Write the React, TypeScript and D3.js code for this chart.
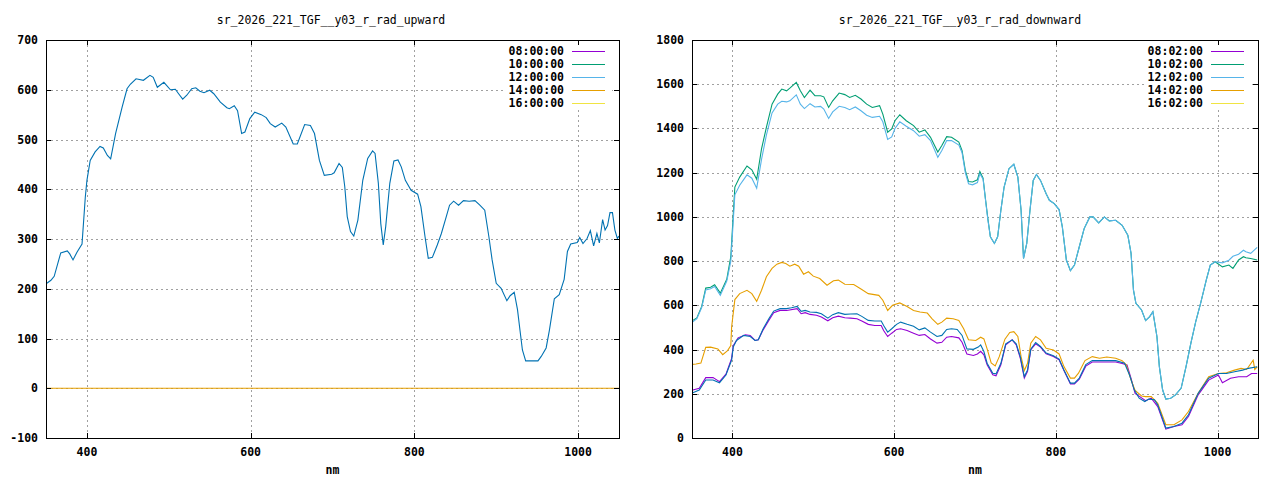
import * as d3 from "d3";
import { useEffect, useRef } from "react";

// wavelength (nm), value pairs
const upward: [number, number][] = [
  [351, 211], [356, 217], [360, 225], [368, 272], [376, 276], [379, 270], [383, 258], [388, 274], [394, 290], [398, 384],
  [400, 418], [404, 458], [410, 475], [416, 486], [420, 483], [425, 468], [429, 461], [435, 512], [443, 565], [449, 602],
  [453, 611], [460, 622], [469, 619], [477, 629], [481, 625], [486, 605], [494, 615], [502, 600], [508, 601], [512, 592],
  [517, 581], [522, 589], [528, 602], [533, 604], [538, 597], [543, 594], [550, 599], [555, 592], [563, 575], [571, 564],
  [574, 562], [580, 568], [584, 558], [589, 512], [593, 515], [599, 542], [605, 555], [613, 550], [619, 544], [624, 532],
  [630, 525], [638, 533], [643, 525], [652, 491], [657, 491], [666, 530], [673, 528], [678, 512], [684, 458], [690, 428],
  [699, 430], [702, 433], [708, 452], [712, 444], [715, 405], [718, 345], [722, 315], [726, 306], [731, 338], [737, 418],
  [743, 462], [749, 477], [752, 472], [756, 412], [759, 331], [762, 288], [765, 325], [770, 412], [775, 457], [780, 459],
  [784, 445], [789, 418], [796, 398], [804, 390], [808, 365], [813, 305], [817, 261], [822, 263], [828, 288], [833, 311],
  [839, 345], [843, 368], [848, 376], [854, 368], [860, 377], [867, 376], [874, 377], [880, 368], [886, 358], [891, 305],
  [895, 258], [900, 211], [906, 201], [913, 176], [917, 186], [922, 193], [926, 158], [929, 117], [932, 77], [936, 55],
  [942, 55], [951, 55], [955, 64], [961, 81], [965, 117], [971, 180], [977, 188], [983, 219], [987, 275], [991, 290],
  [999, 293], [1002, 303], [1006, 291], [1011, 301], [1015, 317], [1019, 286], [1023, 311], [1026, 292], [1030, 339],
  [1033, 318], [1036, 327], [1039, 353], [1042, 353], [1045, 318], [1048, 301], [1050, 306],
];
const upward14: [number, number][] = [[350, 0], [600, 0], [800, 0], [1050, 0]];

const green10Head: [number, number][] = [
  [351, 532], [356, 543], [362, 595], [367, 678], [373, 682], [378, 693], [385, 655], [393, 718], [398, 820], [403, 1135],
  [409, 1180], [418, 1230], [424, 1213], [430, 1170], [436, 1308], [442, 1405], [449, 1510], [456, 1555], [461, 1578],
  [467, 1570], [471, 1582], [479, 1608], [484, 1570], [489, 1540], [496, 1573], [502, 1548], [509, 1548], [513, 1543],
  [519, 1495], [524, 1525], [532, 1560], [539, 1553], [545, 1540], [552, 1550], [559, 1533], [566, 1510], [573, 1495],
  [582, 1503], [586, 1465], [592, 1383], [597, 1398], [601, 1435], [607, 1462], [615, 1435], [624, 1413], [631, 1383],
  [638, 1393], [645, 1360], [654, 1293], [659, 1323], [665, 1363], [671, 1360], [680, 1338], [684, 1300], [688, 1210],
  [692, 1160], [697, 1158], [703, 1168], [706, 1205], [710, 1175], [713, 1080], [716, 990], [719, 910],
];
const blue12Head: [number, number][] = [
  [351, 525], [356, 540], [362, 590], [367, 670], [373, 675], [378, 685], [385, 645], [393, 710], [398, 800], [403, 1100],
  [409, 1143], [418, 1190], [424, 1175], [430, 1130], [436, 1260], [442, 1370], [449, 1470], [456, 1510], [461, 1523],
  [467, 1520], [471, 1525], [479, 1552], [484, 1510], [489, 1490], [496, 1512], [502, 1497], [509, 1500], [513, 1488],
  [519, 1445], [524, 1475], [532, 1500], [539, 1495], [545, 1485], [552, 1497], [559, 1480], [566, 1460], [573, 1450],
  [582, 1455], [586, 1430], [592, 1350], [597, 1362], [601, 1400], [607, 1430], [615, 1410], [624, 1390], [631, 1365],
  [638, 1372], [645, 1345], [654, 1270], [659, 1300], [665, 1345], [671, 1345], [680, 1325], [684, 1290], [688, 1200],
  [692, 1150], [697, 1145], [703, 1155], [706, 1195], [710, 1170], [713, 1075], [716, 985], [719, 910],
];
// 10:02 and 12:02 lie on top of each other between 720 and 1000 nm
const upperMid: [number, number][] = [
  [724, 880], [728, 910], [732, 1030], [736, 1135], [742, 1218], [748, 1238], [753, 1180], [757, 1030], [760, 812],
  [764, 880], [768, 1030], [772, 1165], [776, 1192], [781, 1165], [788, 1105], [792, 1075], [798, 1060], [804, 1033],
  [808, 955], [813, 805], [818, 757], [823, 782], [829, 865], [835, 947], [842, 1000], [846, 1000], [853, 973],
  [860, 1000], [866, 982], [874, 985], [882, 962], [889, 917], [893, 835], [896, 669], [899, 609], [906, 579], [911, 531],
  [916, 549], [920, 571], [925, 459], [928, 323], [932, 218], [936, 176], [942, 180], [948, 195], [955, 226], [961, 323],
  [967, 429], [973, 526], [979, 609], [986, 714], [991, 782], [997, 797],
];
const green10Tail: [number, number][] = [
  [1006, 774], [1014, 782], [1019, 767], [1026, 805], [1032, 820], [1035, 815], [1041, 812], [1049, 805],
];
const blue12Tail: [number, number][] = [
  [1006, 792], [1014, 804], [1019, 822], [1026, 831], [1032, 849], [1035, 842], [1041, 835], [1049, 862],
];

const purple08: [number, number][] = [
  [351, 217], [359, 225], [367, 273], [376, 273], [384, 255], [392, 289], [399, 360], [401, 418], [407, 453], [416, 467],
  [422, 464], [428, 441], [432, 444], [438, 489], [445, 532], [451, 567], [459, 577], [467, 577], [480, 585], [485, 562],
  [490, 567], [496, 559], [504, 555], [510, 547], [518, 530], [524, 544], [531, 551], [539, 544], [546, 542], [554, 539],
  [560, 529], [568, 514], [576, 509], [584, 509], [587, 486], [592, 459], [597, 474], [603, 491], [608, 494], [616, 486],
  [624, 474], [631, 464], [638, 468], [645, 448], [653, 429], [659, 433], [665, 456], [671, 459], [680, 453], [684, 433],
  [690, 380], [698, 373], [703, 380], [707, 392], [711, 376], [715, 331], [722, 286], [726, 281], [732, 331], [738, 421],
  [746, 444], [751, 421], [756, 361], [761, 271], [765, 301], [769, 399], [775, 426], [781, 411], [788, 381], [797, 369],
  [804, 354], [810, 305], [818, 245], [823, 245], [829, 266], [837, 325], [845, 344], [858, 344], [874, 344], [882, 337],
  [888, 330], [893, 270], [898, 202], [911, 169], [918, 180], [926, 142], [936, 40], [946, 52], [956, 60], [964, 97],
  [976, 195], [989, 262], [1001, 285], [1006, 250], [1016, 270], [1026, 277], [1036, 277], [1042, 292], [1049, 292],
];
const orange14: [number, number][] = [
  [350, 333], [355, 335], [361, 339], [367, 410], [373, 411], [382, 403], [388, 377], [394, 395], [398, 418], [399, 502],
  [403, 626], [409, 653], [418, 668], [424, 653], [430, 618], [436, 668], [442, 729], [449, 767], [455, 786], [461, 794],
  [466, 789], [471, 777], [477, 786], [482, 777], [488, 741], [494, 752], [500, 732], [508, 721], [517, 691], [525, 711],
  [531, 714], [539, 695], [550, 694], [558, 676], [568, 653], [581, 645], [586, 623], [592, 577], [598, 600], [607, 611],
  [616, 595], [624, 577], [632, 570], [641, 565], [647, 539], [654, 514], [659, 524], [665, 542], [673, 539], [680, 532],
  [686, 494], [692, 444], [701, 441], [707, 456], [711, 448], [715, 403], [720, 340], [725, 326], [730, 368], [737, 447],
  [743, 477], [748, 481], [753, 459], [757, 368], [761, 305], [765, 338], [769, 429], [775, 459], [781, 444], [788, 406],
  [797, 398], [804, 380], [810, 323], [818, 271], [823, 271], [828, 293], [836, 350], [845, 368], [854, 361], [863, 366],
  [874, 361], [882, 350], [887, 331], [893, 263], [898, 215], [906, 190], [911, 187], [918, 187], [926, 157], [936, 60],
  [946, 60], [956, 82], [964, 120], [976, 202], [989, 277], [1001, 292], [1011, 295], [1021, 307], [1029, 315],
  [1036, 310], [1044, 352], [1046, 310], [1049, 322],
];
const extraDown: [number, number][] = [
  [351, 205], [359, 217], [367, 262], [376, 262], [384, 250], [392, 285], [399, 352], [401, 411], [405, 441], [414, 464],
  [422, 459], [428, 441], [432, 444], [438, 494], [445, 539], [451, 574], [459, 585], [467, 585], [473, 589], [480, 595],
  [485, 573], [490, 577], [496, 570], [504, 568], [510, 562], [518, 542], [524, 558], [531, 567], [539, 559], [546, 561],
  [554, 562], [560, 550], [568, 532], [576, 529], [584, 529], [587, 509], [592, 479], [597, 494], [603, 514], [608, 524],
  [616, 514], [624, 505], [631, 489], [638, 498], [645, 479], [653, 459], [659, 464], [665, 491], [671, 494], [678, 491],
  [684, 464], [690, 403], [698, 401], [704, 411], [707, 421], [711, 391], [715, 338], [722, 293], [726, 290], [732, 338],
  [738, 426], [746, 444], [751, 426], [756, 368], [761, 278], [765, 308], [769, 402], [775, 432], [781, 414], [788, 384],
  [797, 372], [804, 357], [810, 308], [818, 248], [823, 248], [829, 271], [837, 332], [845, 350], [858, 350], [874, 350],
  [885, 338], [891, 286], [897, 218], [903, 180], [910, 165], [915, 176], [922, 173], [926, 150], [936, 45], [946, 52],
  [956, 67], [964, 105], [976, 202], [989, 270], [1001, 292], [1011, 292], [1021, 300], [1031, 307], [1038, 315],
  [1049, 322],
];

const upLabels = ["08:00:00", "10:00:00", "12:00:00", "14:00:00", "16:00:00"];
const downLabels = ["08:02:00", "10:02:00", "12:02:00", "14:02:00", "16:02:00"];
const keyColors = ["#9400d3", "#009e73", "#56b4e9", "#e69f00", "#f0e442"];
const xTicks = [400, 600, 800, 1000];
const upTicks = [-100, 0, 100, 200, 300, 400, 500, 600, 700];
const downTicks = [0, 200, 400, 600, 800, 1000, 1200, 1400, 1600, 1800];

const FONT = "'DejaVu Sans Mono', 'Liberation Mono', monospace";

const panels = [
  {
    id: "up", title: "sr_2026_221_TGF__y03_r_rad_upward", titleX: 331,
    left: 46, right: 619, yDomain: [-100, 700], yTicks: upTicks, labels: upLabels,
    series: [
      { data: upward14, color: "#e69f00" },
      { data: upward, color: "#0072b2" },
    ],
  },
  {
    id: "down", title: "sr_2026_221_TGF__y03_r_rad_downward", titleX: 960,
    left: 692, right: 1258, yDomain: [0, 1800], yTicks: downTicks, labels: downLabels,
    series: [
      { data: purple08, color: "#9400d3" },
      { data: [...green10Head, ...upperMid, ...green10Tail], color: "#009e73" },
      { data: [...blue12Head, ...upperMid, ...blue12Tail], color: "#56b4e9" },
      { data: orange14, color: "#e69f00" },
      { data: extraDown, color: "#0072b2" },
    ],
  },
];

const App = () => {
  const ref: any = useRef();

  useEffect(() => {
    const svg = d3.select(ref.current);
    svg.selectAll("*").remove();
    const top = 40, bottom = 438;

    panels.forEach((p) => {
      const x = d3.scaleLinear().domain([350, 1050]).range([p.left, p.right]);
      const y = d3.scaleLinear().domain(p.yDomain).range([bottom, top]);
      const g = svg.append("g");
      const px = (v: number) => Math.round(v) + 0.5;

      g.append("clipPath").attr("id", "clip-" + p.id)
        .append("rect").attr("x", p.left).attr("y", top)
        .attr("width", p.right - p.left).attr("height", bottom - top);

      // grid
      xTicks.forEach((t) => {
        g.append("line").attr("x1", px(x(t))).attr("x2", px(x(t))).attr("y1", top).attr("y2", bottom)
          .attr("stroke", "#a0a0a0").attr("stroke-dasharray", "2,3");
      });
      p.yTicks.forEach((t) => {
        if (t === p.yDomain[0] || t === p.yDomain[1]) return;
        g.append("line").attr("x1", p.left).attr("x2", p.right).attr("y1", px(y(t))).attr("y2", px(y(t)))
          .attr("stroke", "#a0a0a0").attr("stroke-dasharray", "2,3");
      });

      // curves
      const line = d3.line<[number, number]>().x((d) => x(d[0])).y((d) => y(d[1]));
      const lines = g.append("g").attr("clip-path", `url(#clip-${p.id})`);
      p.series.forEach((s) => {
        lines.append("path").datum(s.data).attr("d", line)
          .attr("fill", "none").attr("stroke", s.color).attr("stroke-width", 1.1);
      });

      // key
      const keyRight = p.right - 55;
      g.append("rect").attr("x", keyRight - 58).attr("y", top + 3)
        .attr("width", 106).attr("height", 66).attr("fill", "white");
      p.labels.forEach((lab, i) => {
        const yy = top + 11 + i * 13;
        g.append("text").attr("x", keyRight).attr("y", yy + 4).attr("text-anchor", "end")
          .attr("font-family", FONT).attr("font-size", 11.5).attr("font-weight", "bold").text(lab);
        g.append("line").attr("x1", keyRight + 8).attr("x2", keyRight + 41)
          .attr("y1", px(yy)).attr("y2", px(yy)).attr("stroke", keyColors[i]).attr("stroke-width", 1);
      });

      // border and ticks
      g.append("rect").attr("x", px(p.left)).attr("y", px(top)).attr("width", p.right - p.left)
        .attr("height", bottom - top).attr("fill", "none").attr("stroke", "black").attr("stroke-width", 1);
      xTicks.forEach((t) => {
        const xx = px(x(t));
        g.append("line").attr("x1", xx).attr("x2", xx).attr("y1", bottom).attr("y2", bottom - 5).attr("stroke", "black");
        g.append("line").attr("x1", xx).attr("x2", xx).attr("y1", top).attr("y2", top + 5).attr("stroke", "black");
        g.append("text").attr("x", x(t)).attr("y", 456).attr("text-anchor", "middle")
          .attr("font-family", FONT).attr("font-size", 11.5).attr("font-weight", "bold").text(t);
      });
      p.yTicks.forEach((t) => {
        const yy = px(y(t));
        g.append("line").attr("x1", p.left).attr("x2", p.left + 5).attr("y1", yy).attr("y2", yy).attr("stroke", "black");
        g.append("line").attr("x1", p.right).attr("x2", p.right - 5).attr("y1", yy).attr("y2", yy).attr("stroke", "black");
        g.append("text").attr("x", p.left - 8).attr("y", y(t) + 4).attr("text-anchor", "end")
          .attr("font-family", FONT).attr("font-size", 11.5).attr("font-weight", "bold").text(t);
      });

      g.append("text").attr("x", p.titleX).attr("y", 24).attr("text-anchor", "middle")
        .attr("font-family", FONT).attr("font-size", 11.5).text(p.title);
      g.append("text").attr("x", (p.left + p.right) / 2).attr("y", 474).attr("text-anchor", "middle")
        .attr("font-family", FONT).attr("font-size", 11.5).attr("font-weight", "bold").text("nm");
    });
  }, []);

  return (
    <svg ref={ref} width={1280} height={480}
      style={{ position: "fixed", left: 0, top: 0, background: "white" }} />
  );
};

export default App;
